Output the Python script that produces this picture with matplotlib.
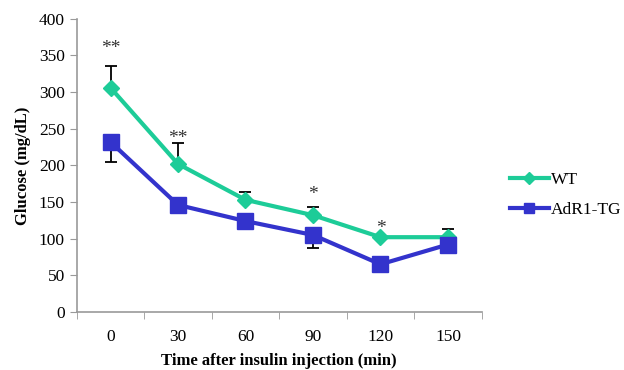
import matplotlib
matplotlib.use("Agg")
import matplotlib.pyplot as plt
import numpy as np

times = ["0", "30", "60", "90", "120", "150"]
wt = [306, 202, 153, 132, 102, 102]
wt_err = [30, 29, 11, 11, 0, 11]
tg = [232, 146, 124, 105, 65, 92]
tg_err = [27, 0, 0, 18, 0, 0]
sig_labels = ["**", "**", "", "*", "*", ""]
sig_y = [360, 237, 0, 160, 114, 0]

plt.rcParams['font.family'] = ['Liberation Serif', 'DejaVu Serif']

fig = plt.figure(figsize=(6.24, 3.70), dpi=100)
ax = fig.add_axes([0.123, 0.157, 0.649, 0.792])

x = np.arange(len(times))
green = '#1DCC98'
blue = '#3333CC'

ax.errorbar(x, wt, yerr=[np.zeros(len(wt)), wt_err], fmt='none', ecolor='black',
            elinewidth=1.3, capsize=4, capthick=1.3, zorder=2)
ax.errorbar(x, tg, yerr=[tg_err, np.zeros(len(tg))], fmt='none', ecolor='black',
            elinewidth=1.3, capsize=4, capthick=1.3, zorder=2)
ax.plot(x, wt, color=green, lw=3, marker='D', ms=8.5, label='WT', zorder=3)
ax.plot(x, tg, color=blue, lw=3, marker='s', ms=11, label='AdR1-TG', zorder=3)

for xi, s, yv in zip(x, sig_labels, sig_y):
    if s:
        ax.text(xi, yv, s, ha='center', va='center', fontsize=14, color='#333333')

ax.set_xlim(-0.5, len(times) - 0.5)
ax.set_ylim(0, 400)
ax.set_yticks(np.arange(0, 401, 50))
ax.set_xticks(x)
ax.set_xticklabels(times)
ax.set_xticks(np.arange(-0.5, len(times), 1), minor=True)
ax.tick_params(axis='x', which='major', length=0, labelsize=12.5, pad=12)
ax.tick_params(axis='x', which='minor', length=5, color='#999999', direction='out')
ax.tick_params(axis='y', length=5, color='#999999', labelsize=12.5)

for side in ['top', 'right']:
    ax.spines[side].set_visible(False)
for side in ['left', 'bottom']:
    ax.spines[side].set_color('#999999')
    ax.spines[side].set_linewidth(1.2)

ax.set_ylabel('Glucose (mg/dL)', fontsize=12, fontweight='bold', labelpad=6)
ax.set_xlabel('Time after insulin injection (min)', fontsize=12, fontweight='bold', labelpad=6)

ax.legend(loc='center left', bbox_to_anchor=(1.03, 0.40), frameon=False, fontsize=12.5,
          handlelength=2.3, handletextpad=0.1, labelspacing=0.8, markerscale=0.7)

fig.savefig('out.png', dpi=100)
